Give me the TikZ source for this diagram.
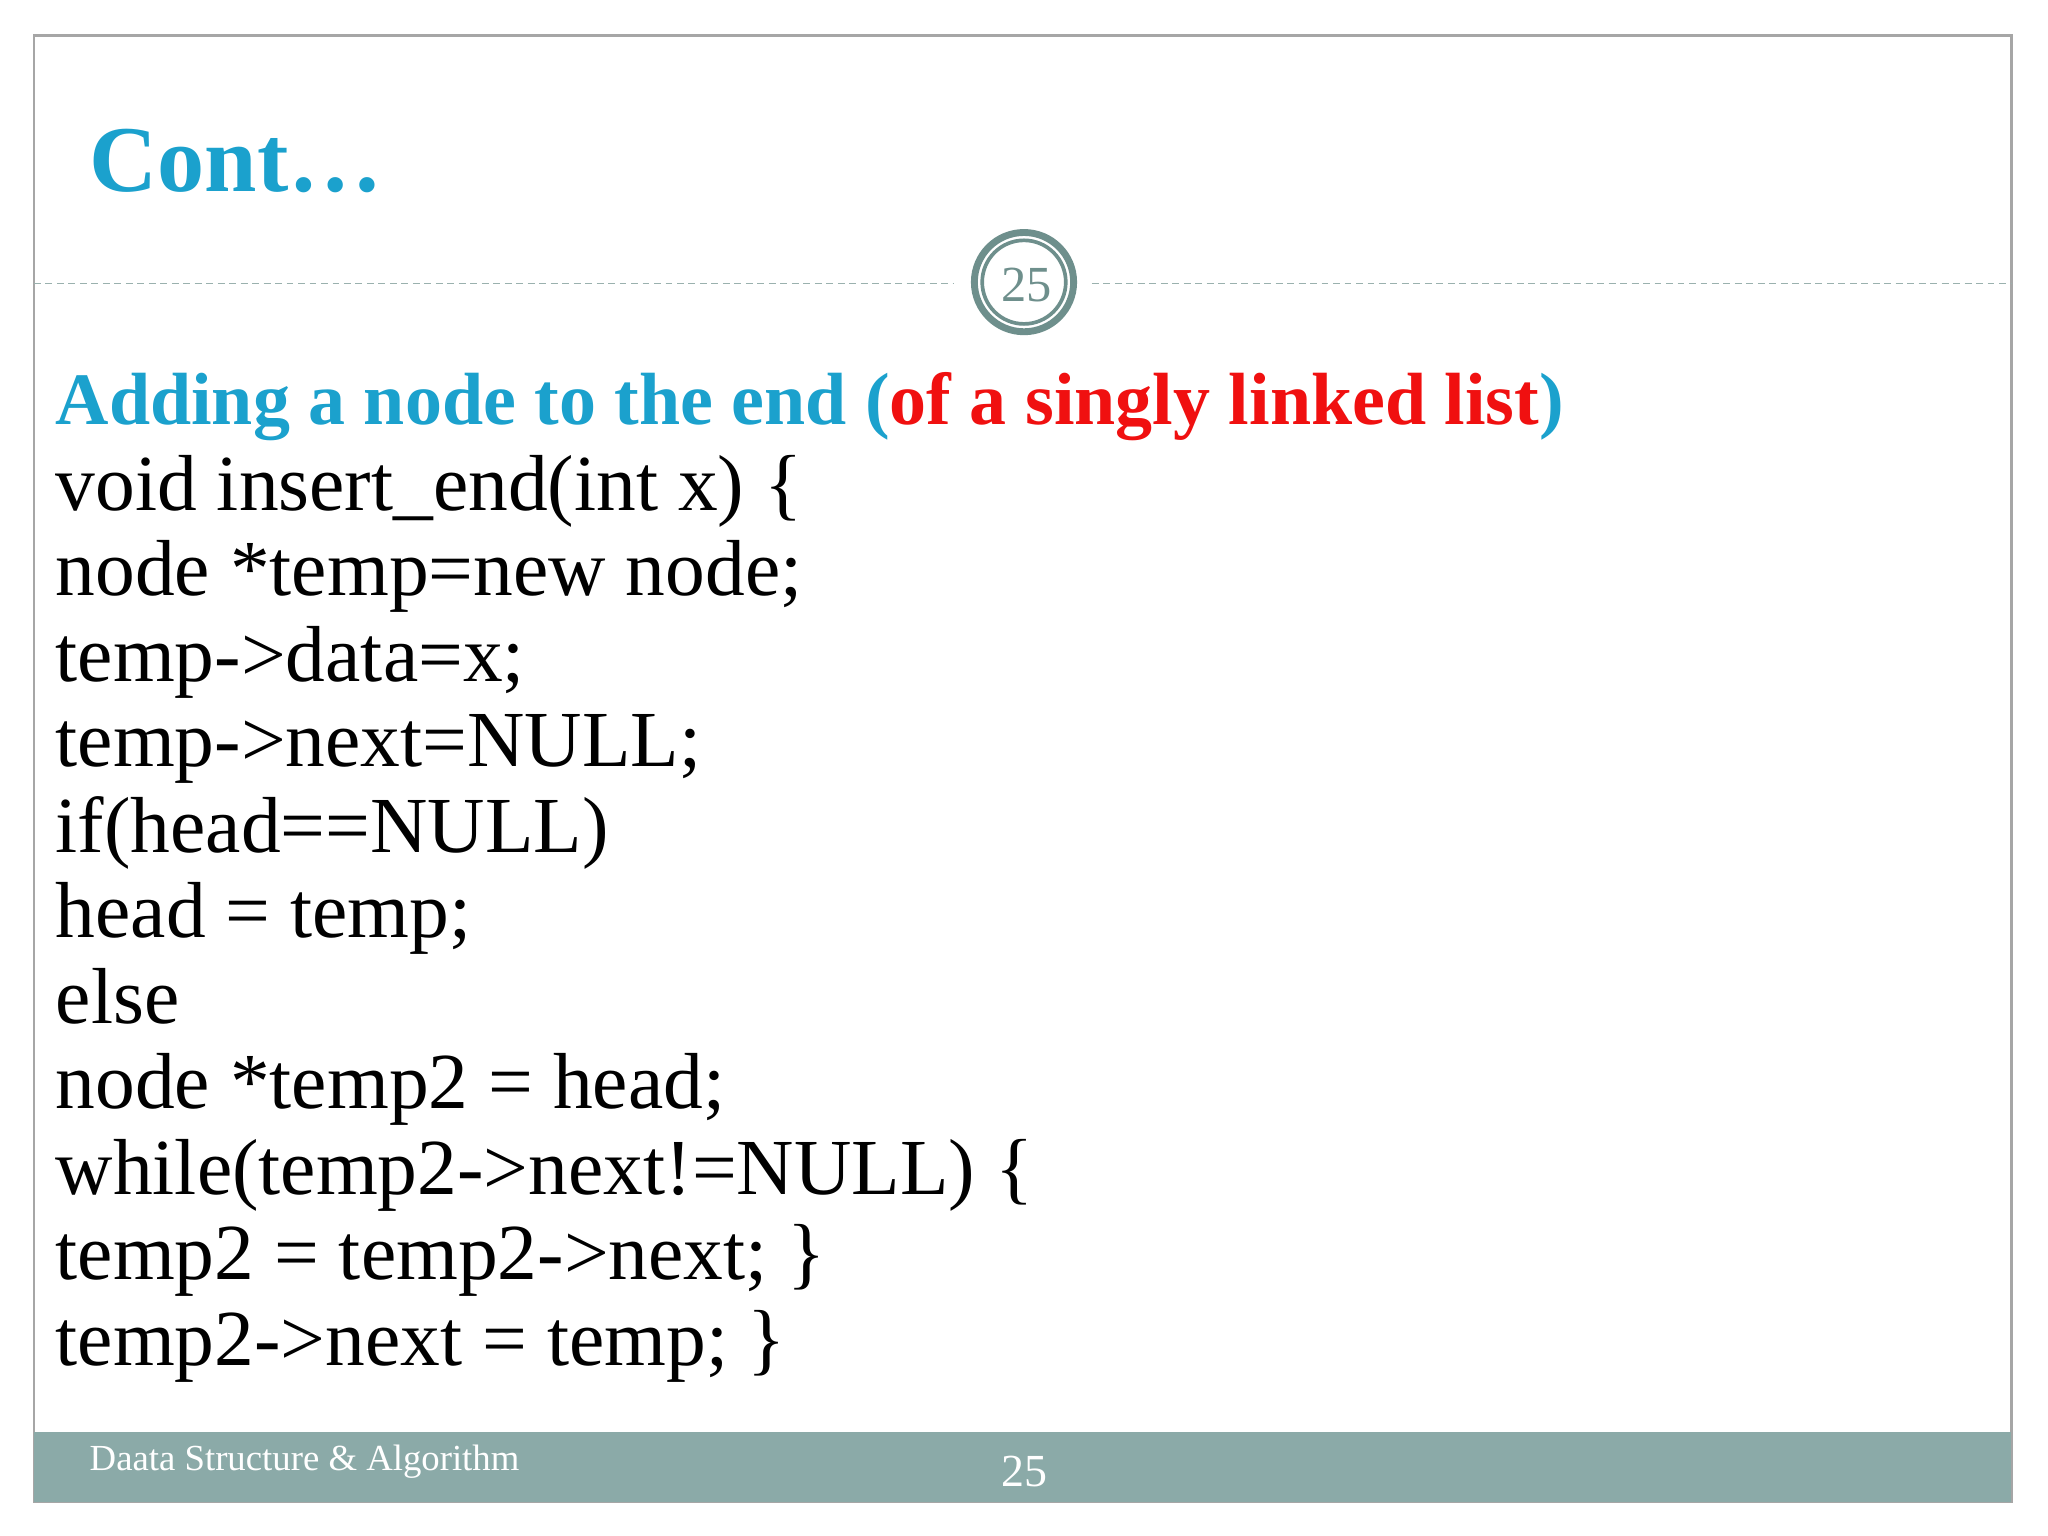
\documentclass[tikz,border=0pt]{standalone}
\usepackage{fontspec}
\setmainfont{Liberation Serif}
\definecolor{ttl}{HTML}{1BA1CD}
\definecolor{rd}{HTML}{F01010}
\definecolor{bar}{HTML}{8BAAA8}
\definecolor{ring}{HTML}{6E8F8C}
\begin{document}
\begin{tikzpicture}[x=0.01cm,y=-0.01cm,
  code/.style={anchor=base west,inner sep=0pt,font=\fontsize{17.3}{17.3}\selectfont}]
\useasboundingbox (0,0) rectangle (1568,1176);
\fill[white] (0,0) rectangle (1568,1176);
\draw[gray!70,line width=0.6pt] (26,27) rectangle (1540,1150);
\fill[bar] (26,1096) rectangle (1540,1150);
\node[anchor=base west,inner sep=0pt,text=ttl,font=\fontsize{20.5}{20.5}\selectfont\bfseries] (title) at (68,147) {Cont…};
\draw[ring!70,dash pattern=on 1.5pt off 1pt,line width=0.35pt] (26,217) -- (730,217);
\draw[ring!70,dash pattern=on 1.5pt off 1pt,line width=0.35pt] (836,217) -- (1540,217);
\draw[ring,line width=1.5pt] (784,216) circle (38);
\draw[ring,line width=0.8pt] (784,216) circle (32);
\node[text=ring,font=\fontsize{11}{11}\selectfont] (pg) at (786,218) {25};
\node[code,font=\fontsize{16.1}{16.1}\selectfont\bfseries,text=ttl] (head) at (42,325) {Adding a node to the end (\textcolor{rd}{of a singly linked list})};
\foreach \t [count=\i] in {void insert\_end(int x) \{,node *temp=new node;,temp->data=x;,temp->next=NULL;,if(head==NULL),head = temp;,else,node *temp2 = head;,while(temp2->next!=NULL) \{,temp2 = temp2->next; \},temp2->next = temp; \}}
  \node[code] (c\i) at (42,{325+65.5*\i}) {\t};
\node[anchor=base west,inner sep=0pt,text=white,font=\fontsize{8}{8}\selectfont] (ft) at (68,1126) {Daata Structure \& Algorithm};
\node[anchor=base,inner sep=0pt,text=white,font=\fontsize{10}{10}\selectfont] (fn) at (784,1138) {25};
\end{tikzpicture}
\end{document}
